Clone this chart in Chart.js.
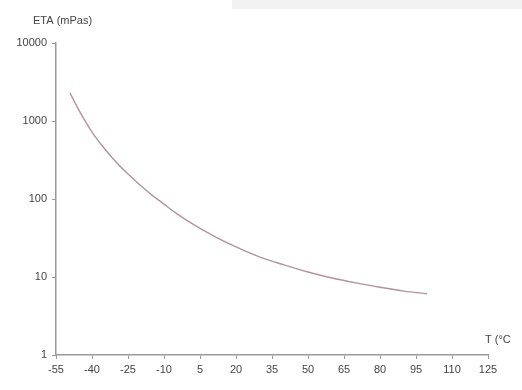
<!DOCTYPE html>
<html><head><meta charset="utf-8">
<script src="https://cdn.jsdelivr.net/npm/chart.js@4/dist/chart.umd.min.js"></script>
<style>html,body{margin:0;padding:0;background:#fff;}#wrap{width:522px;height:390px;position:relative;}</style>
</head><body><div id="wrap"><canvas id="c" width="522" height="390"></canvas></div>
<script>
const temps = [-49.2, -45, -40, -35, -30, -25, -20, -15, -10, -5, 0, 10, 20, 30, 40, 50, 60, 70, 80, 90, 99.6];
const eta   = [2290, 1300, 722, 451, 298, 209, 151, 112, 86, 66, 52, 34.5, 24.3, 18.0, 14.3, 11.6, 9.7, 8.4, 7.4, 6.6, 6.1];
const xTicks = [-55, -40, -25, -10, 5, 20, 35, 50, 65, 80, 95, 110, 125];
const yTicks = [1, 10, 100, 1000, 10000];
const yTitle = 'ETA (mPas)';
const xTitle = 'T (°C';

const FONT = {family: 'Liberation Sans, Arial, sans-serif', size: 11};
const textColor = '#444';
const axisColor = '#9a9a9a';

const titles = {
  id: 'titles',
  beforeDraw(chart) {
    const ctx = chart.ctx;
    ctx.save();
    ctx.fillStyle = '#f2f2f2';
    ctx.fillRect(232, 0, 290, 9);
    ctx.restore();
  },
  afterDraw(chart) {
    const ctx = chart.ctx;
    ctx.save();
    ctx.fillStyle = textColor;
    ctx.font = '11px Liberation Sans, Arial, sans-serif';
    ctx.textBaseline = 'middle';
    ctx.textAlign = 'left';
    ctx.fillText(yTitle, 33, 21);
    ctx.fillText(xTitle, 485, 340);
    ctx.restore();
  }
};

new Chart(document.getElementById('c'), {
  type: 'line',
  data: {
    datasets: [{
      data: temps.map((t, i) => ({x: t, y: eta[i]})),
      borderColor: '#b5939a',
      borderWidth: 1.4,
      pointRadius: 0,
      cubicInterpolationMode: 'monotone',
      fill: false
    }]
  },
  options: {
    responsive: false,
    animation: false,
    events: [],
    layout: {padding: {left: 0, right: 34, top: 43, bottom: 0}},
    plugins: {legend: {display: false}, tooltip: {enabled: false}},
    scales: {
      x: {
        type: 'linear', min: -55, max: 125,
        afterBuildTicks(s) { s.ticks = xTicks.map(v => ({value: v})); },
        ticks: {color: textColor, font: FONT, padding: 4, maxRotation: 0, autoSkip: false},
        grid: {drawOnChartArea: false, drawTicks: true, tickLength: 4, color: axisColor},
        border: {color: axisColor, width: 1.5},
        afterFit(s) { s.height = 35; }
      },
      y: {
        type: 'logarithmic', min: 1, max: 10000,
        afterBuildTicks(s) { s.ticks = yTicks.map(v => ({value: v})); },
        ticks: {color: textColor, font: FONT, padding: 5, callback: v => String(v), autoSkip: false},
        grid: {drawOnChartArea: false, drawTicks: true, tickLength: 4, color: axisColor},
        border: {color: axisColor, width: 1.5},
        afterFit(s) { s.width = 56; }
      }
    }
  },
  plugins: [titles]
});
</script></body></html>
